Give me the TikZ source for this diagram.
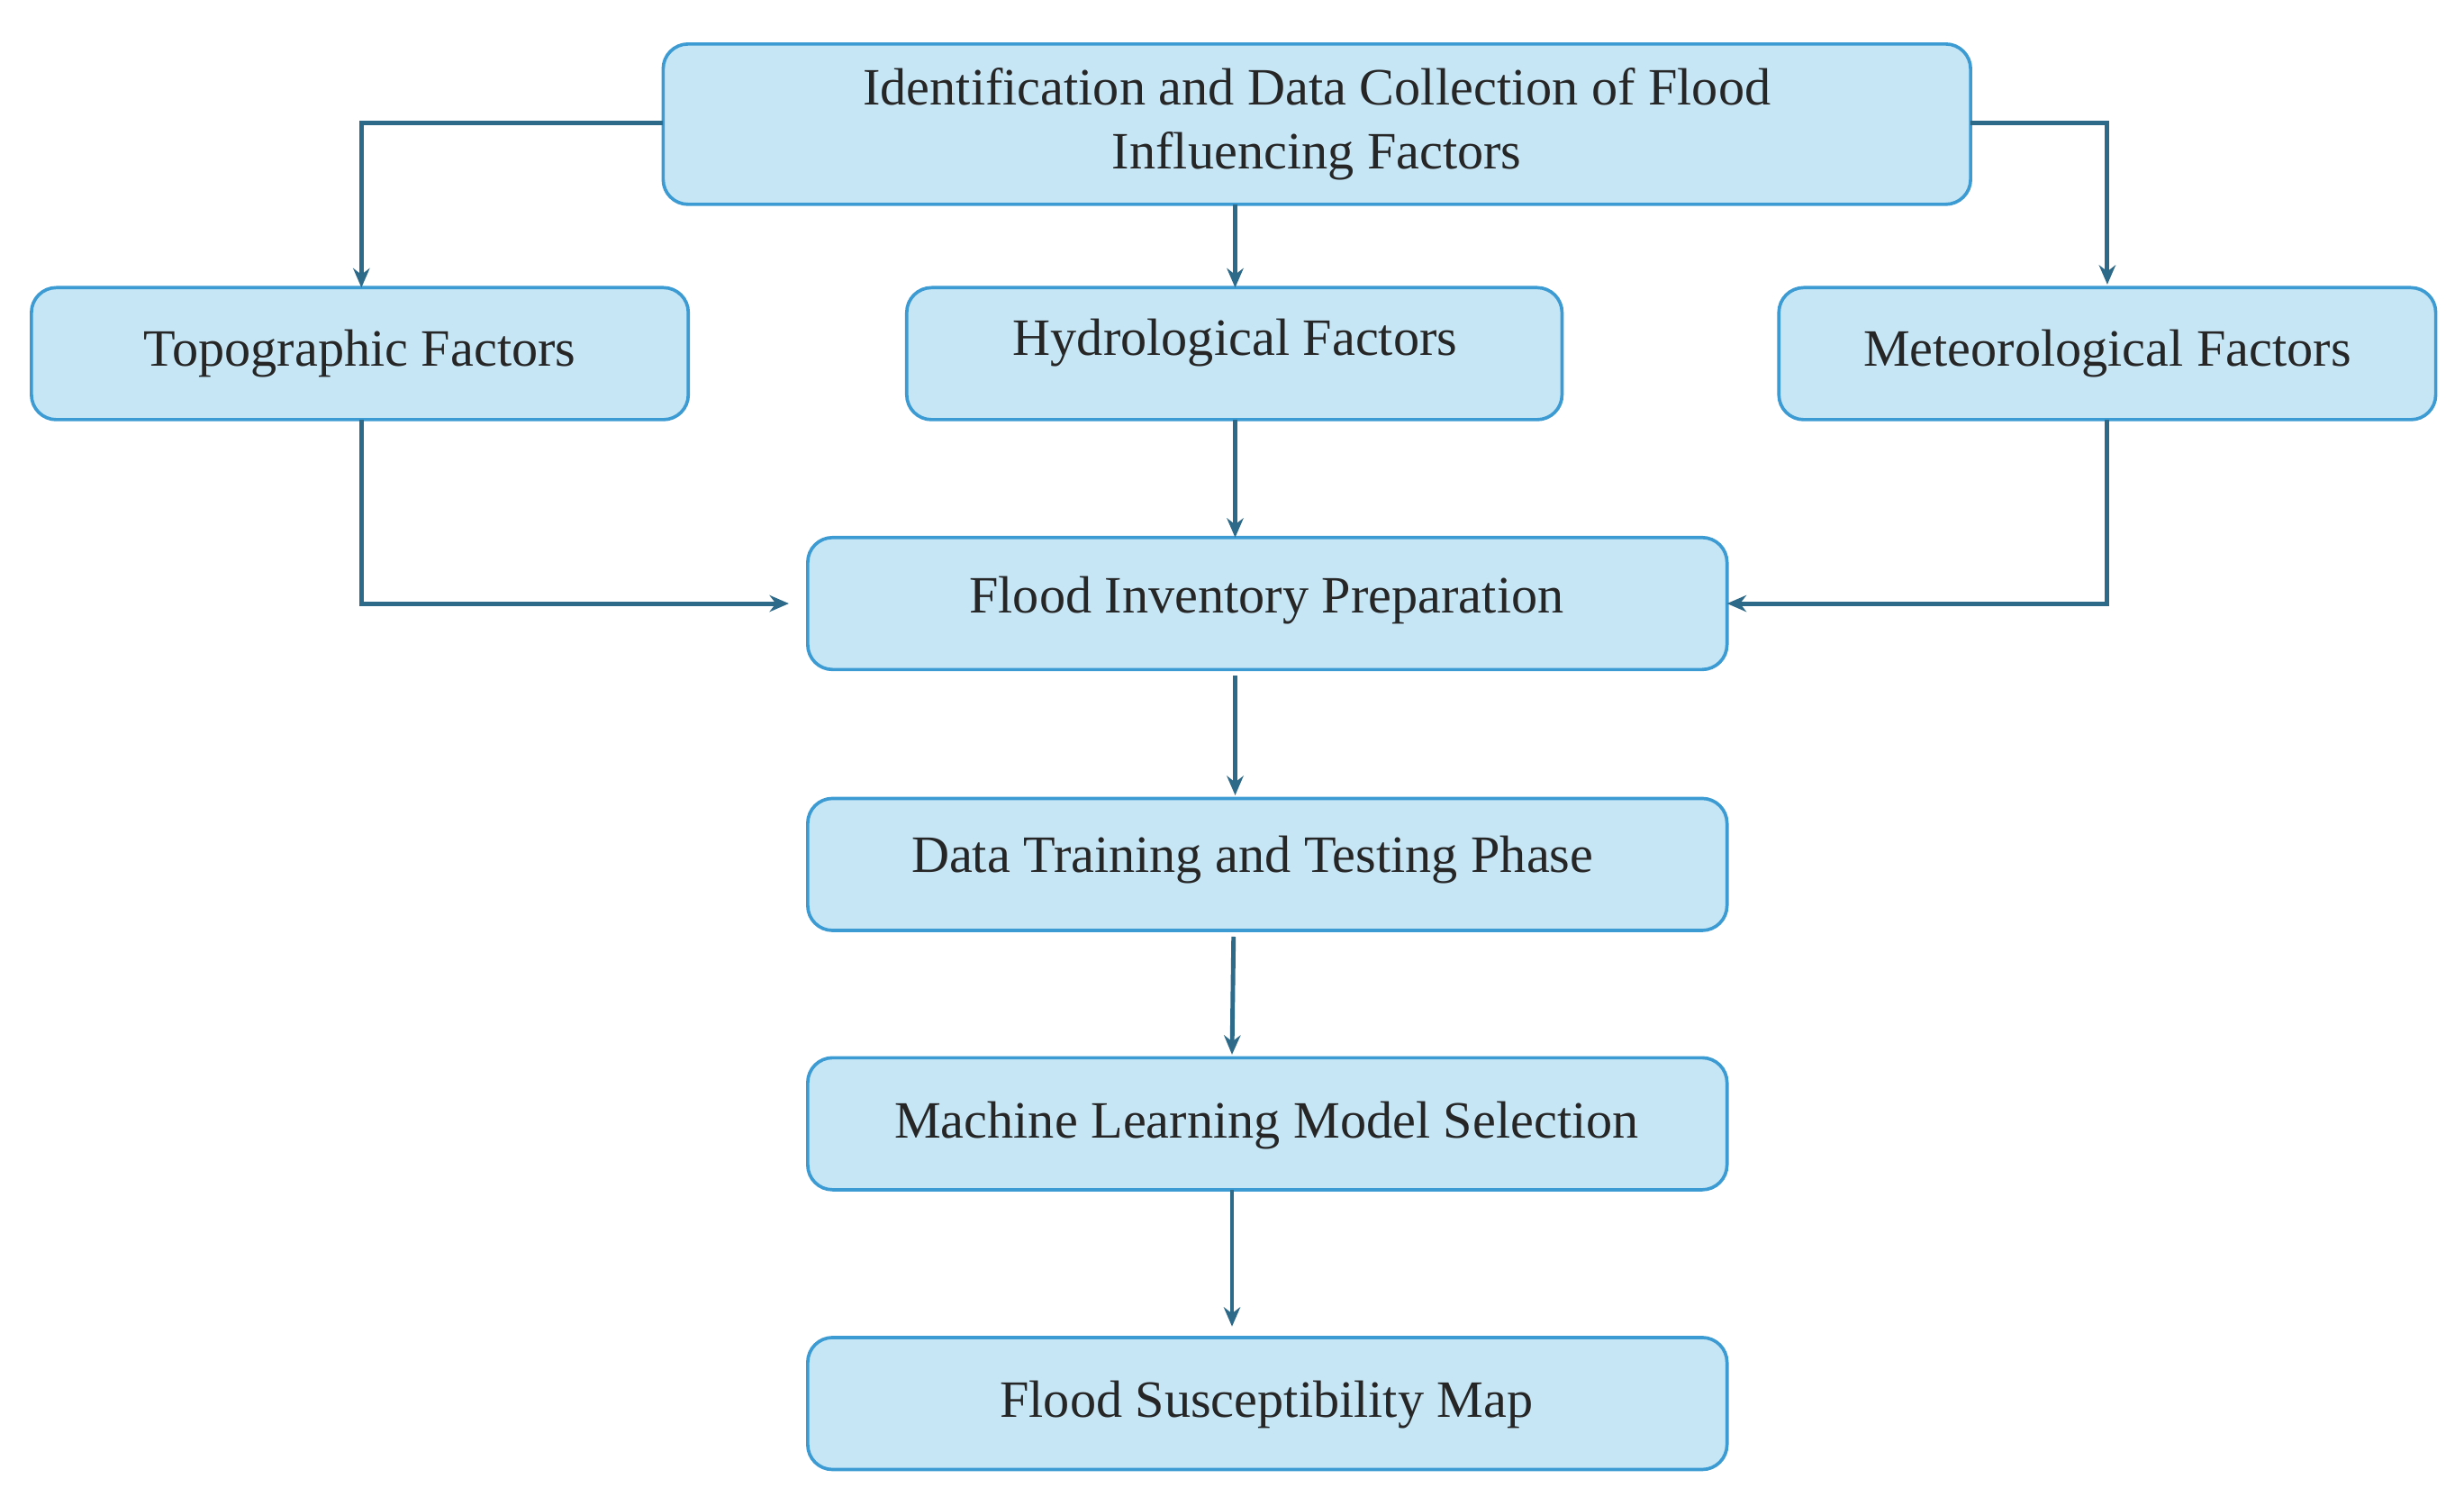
\documentclass[tikz,border=0pt]{standalone}
\usepackage{fontspec}
\setmainfont{Liberation Serif}
\usetikzlibrary{arrows.meta}
\definecolor{boxfill}{HTML}{C6E6F6}
\definecolor{boxline}{HTML}{3D9BD3}
\definecolor{arr}{HTML}{2D6A8A}
\begin{document}
\begin{tikzpicture}[x=0.02cm,y=-0.02cm,
  box/.style={draw=boxline,fill=boxfill,line width=1.2pt,rounded corners=9pt},
  lbl/.style={font=\fontsize{19}{23}\selectfont,align=center,text=black!85},
  ar/.style={draw=arr,line width=1.6pt,-{Stealth[length=7pt,width=6pt]}}]
\useasboundingbox (0,0) rectangle (1568,958);
\draw[box] (422,28) rectangle (1254,130); \node[lbl] (top) at (838,79) {Identification and Data Collection of Flood\\Influencing Factors};
\draw[box] (20,183) rectangle (438,267); \node[lbl] (topo) at (229,225) {Topographic Factors};
\draw[box] (577,183) rectangle (994,267); \node[lbl] (hyd) at (786,218) {Hydrological Factors};
\draw[box] (1132,183) rectangle (1550,267); \node[lbl] (met) at (1341,225) {Meteorological Factors};
\draw[box] (514,342) rectangle (1099,426); \node[lbl] (inv) at (806,382) {Flood Inventory Preparation};
\draw[box] (514,508) rectangle (1099,592); \node[lbl] (dat) at (797,547) {Data Training and Testing Phase};
\draw[box] (514,673) rectangle (1099,757); \node[lbl] (ml) at (806,716) {Machine Learning Model Selection};
\draw[box] (514,851) rectangle (1099,935); \node[lbl] (fsm) at (806,894) {Flood Susceptibility Map};
\coordinate (a1) at (422,78); \coordinate (a2) at (230,183);
\draw[ar] (a1) -| (a2);
\coordinate (b1) at (1254,78); \coordinate (b2) at (1341,181);
\draw[ar] (b1) -| (b2);
\coordinate (c1) at (786,130); \coordinate (c2) at (786,183);
\draw[ar] (c1) -- (c2);
\coordinate (d1) at (230,267); \coordinate (d2) at (502,384);
\draw[ar] (d1) |- (d2);
\coordinate (e1) at (786,267); \coordinate (e2) at (786,342);
\draw[ar] (e1) -- (e2);
\coordinate (f1) at (1341,267); \coordinate (f2) at (1099,384);
\draw[ar] (f1) |- (f2);
\coordinate (g1) at (786,430); \coordinate (g2) at (786,506);
\draw[ar] (g1) -- (g2);
\coordinate (h1) at (785,596); \coordinate (h2) at (784,671);
\draw[ar] (h1) -- (h2);
\coordinate (i1) at (784,757); \coordinate (i2) at (784,844);
\draw[ar] (i1) -- (i2);
\end{tikzpicture}
\end{document}
